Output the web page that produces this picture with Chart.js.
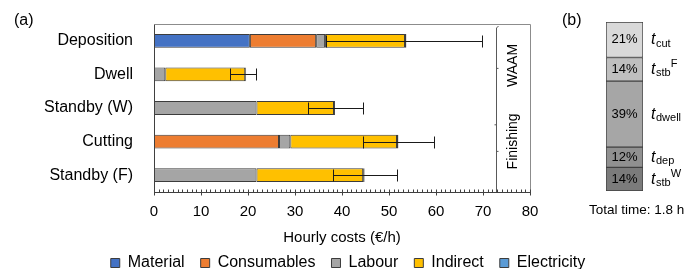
<!DOCTYPE html>
<html lang="en">
<head>
<meta charset="UTF-8" />
<title>Hourly costs</title>
<script src="https://cdn.jsdelivr.net/npm/chart.js@4.4.1/dist/chart.umd.min.js"></script>
<style>
	body { margin: 0; background: #fff; }
	#wrap { position: relative; width: 696px; height: 269px; font-family: 'Liberation Sans', Arial, sans-serif; }
	#costChart { position: absolute; left: 0; top: 0; }
	#timeChart { position: absolute; left: 560px; top: 0; }
	.tag { position: absolute; font-size: 16px; color: #000; }
</style>
</head>
<body>
<div id="wrap">
	<canvas id="costChart" width="696" height="269"></canvas>
	<canvas id="timeChart" width="136" height="269"></canvas>
	<div class="tag" style="left:14px; top:11px;">(a)</div>
	<div class="tag" style="left:562px; top:11px;">(b)</div>
	<div class="tag" style="left:589px; top:202px; font-size:13.5px;">Total time: 1.8 h</div>
</div>
<script>
	// panel (a) - hourly costs per state
	const categories = ['Deposition', 'Dwell', 'Standby (W)', 'Cutting', 'Standby (F)'];
	const material    = [20.4, 0, 0, 0, 0];
	const consumables = [14.1, 0, 0, 26.6, 0];
	const labour      = [1.9, 2.4, 21.8, 2.4, 21.8];
	const indirect    = [17.0, 17.0, 16.5, 22.7, 22.7];
	const electricity = [0.3, 0.2, 0.2, 0.3, 0.3];
	const errLow  = [17.0, 3.5, 5.8, 7.6, 6.8];
	const errHigh = [16.0, 2.1, 5.9, 7.6, 6.9];
	const xTicks = [0, 10, 20, 30, 40, 50, 60, 70, 80];

	// panel (b) - share of total time, bottom to top
	const timeNames  = ['stbW', 'dep', 'dwell', 'stbF', 'cut'];
	const timeShares = [14, 12, 39, 14, 21];
	const timeSub    = ['stb', 'dep', 'dwell', 'stb', 'cut'];
	const timeSup    = ['W', '', '', 'F', ''];

	const FONT = "'Liberation Sans', Arial, sans-serif";
	const EDGE = '#3c3c3c';

	const series = [
		['Material', material, '#4472c4'],
		['Consumables', consumables, '#ed7d31'],
		['Labour', labour, '#a5a5a5'],
		['Indirect', indirect, '#ffc000'],
		['Electricity', electricity, '#5b9bd5']
	];

	const noPad = s => { s.paddingTop = 0; s.paddingBottom = 0; s.paddingLeft = 0; s.paddingRight = 0; };

	const errorBars = {
		id: 'errorBars',
		afterDatasetsDraw(chart) {
			const {ctx, scales: {x, y}} = chart;
			ctx.save();
			ctx.strokeStyle = '#1a1a1a';
			ctx.lineWidth = 1;
			categories.forEach((c, i) => {
				const total = material[i] + consumables[i] + labour[i] + indirect[i] + electricity[i];
				const x1 = Math.round(x.getPixelForValue(total - errLow[i])) + 0.5;
				const x2 = Math.round(x.getPixelForValue(total + errHigh[i])) + 0.5;
				const yc = Math.round(y.getPixelForValue(i)) + 0.5;
				ctx.beginPath();
				ctx.moveTo(x1, yc); ctx.lineTo(x2, yc);
				ctx.moveTo(x1, yc - 6); ctx.lineTo(x1, yc + 6);
				ctx.moveTo(x2, yc - 6); ctx.lineTo(x2, yc + 6);
				ctx.stroke();
			});
			ctx.restore();
		}
	};

	const frame = {
		id: 'frame',
		afterDraw(chart) {
			const {ctx, chartArea: a, scales: {x, y}} = chart;
			const L = Math.round(a.left) + 0.5, R = Math.round(a.right) + 0.5;
			const T = Math.round(a.top) + 0.5, B = Math.round(a.bottom) + 0.5;
			ctx.save();
			ctx.lineWidth = 1;
			ctx.strokeStyle = '#8c8c8c';
			ctx.beginPath();
			ctx.moveTo(L, T); ctx.lineTo(R, T); ctx.lineTo(R, B);
			ctx.stroke();
			ctx.strokeStyle = '#404040';
			ctx.beginPath();
			ctx.moveTo(L, T); ctx.lineTo(L, B); ctx.lineTo(R, B);
			for (let v = 0; v <= 80; v++) {
				const px = Math.round(x.getPixelForValue(v)) + 0.5;
				ctx.moveTo(px, B - 3);
				ctx.lineTo(px, v % 10 === 0 ? B + 3 : B);
			}
			ctx.stroke();

			// group brackets
			const bx = Math.round(x.getPixelForValue(72.8)) + 0.5;
			const split = (y.getPixelForValue(2) + y.getPixelForValue(3)) / 2;
			const top = a.top + 2, bot = a.bottom;
			ctx.strokeStyle = '#595959';
			ctx.beginPath();
			ctx.moveTo(bx + 2, top); ctx.lineTo(bx, top + 2); ctx.lineTo(bx, bot);
			[(top + split) / 2 - 7, (split + bot) / 2 - 7].forEach(m => {
				ctx.moveTo(bx, m); ctx.lineTo(bx + 2, m);
			});
			ctx.moveTo(bx, split); ctx.lineTo(bx - 2, split);
			ctx.stroke();

			ctx.fillStyle = '#000';
			ctx.font = '14px ' + FONT;
			ctx.textAlign = 'center';
			ctx.textBaseline = 'middle';
			[['WAAM', (top + split) / 2 - 10], ['Finishing', (split + bot) / 2 - 17]].forEach(([t, m]) => {
				ctx.save();
				ctx.translate(bx + 17, m);
				ctx.rotate(-Math.PI / 2);
				ctx.fillText(t, 0, 0);
				ctx.restore();
			});
			ctx.restore();
		}
	};

	new Chart(document.getElementById('costChart'), {
		type: 'bar',
		data: {
			labels: categories,
			datasets: series.map(([label, vals, color]) => ({
				label: label,
				data: vals.map(v => v || null),
				backgroundColor: color,
				borderColor: EDGE,
				borderWidth: 1,
				borderSkipped: false,
				barPercentage: 0.41,
				categoryPercentage: 1,
				stack: 's'
			}))
		},
		options: {
			indexAxis: 'y',
			responsive: false,
			animation: false,
			layout: { padding: { top: 24, bottom: -12 } },
			scales: {
				x: {
					stacked: true,
					min: 0, max: 80,
					grid: { display: false, drawTicks: false },
					border: { display: false },
					ticks: { stepSize: 10, padding: 11, color: '#000', font: { family: FONT, size: 15 } },
					title: { display: true, text: 'Hourly costs (€/h)', color: '#000', font: { family: FONT, size: 15 }, padding: { top: 0, bottom: -8 } },
					afterFit: s => { s.height = 47; noPad(s); }
				},
				y: {
					stacked: true,
					grid: { display: false, drawTicks: false },
					border: { display: false },
					ticks: { padding: 21, color: '#000', font: { family: FONT, size: 16 } },
					afterFit: s => { s.width = 154; noPad(s); }
				},
				yR: {
					type: 'linear',
					position: 'right',
					display: true,
					grid: { display: false, drawTicks: false },
					border: { display: false },
					ticks: { display: false },
					afterFit: s => { s.width = 166; noPad(s); }
				}
			},
			plugins: {
				legend: {
					position: 'bottom',
					labels: { boxWidth: 9, boxHeight: 9, padding: 16, color: '#000', font: { family: FONT, size: 16 } }
				},
				tooltip: { enabled: false }
			}
		},
		plugins: [errorBars, frame]
	});

	const timeLabels = {
		id: 'timeLabels',
		afterDatasetsDraw(chart) {
			const {ctx, chartArea: a} = chart;
			ctx.save();
			ctx.fillStyle = '#000';
			ctx.textBaseline = 'middle';
			chart.data.datasets.forEach((ds, i) => {
				const bar = chart.getDatasetMeta(i).data[0];
				const ym = (bar.y + bar.base) / 2;
				ctx.font = '13px ' + FONT;
				ctx.textAlign = 'center';
				ctx.fillText(ds.data[0] + '%', bar.x, ym);
				ctx.textAlign = 'left';
				const tx = a.right + 8;
				ctx.font = 'italic 16px ' + FONT;
				ctx.fillText('t', tx, ym);
				ctx.font = '11px ' + FONT;
				ctx.fillText(timeSub[i], tx + 5, ym + 4);
				if (timeSup[i]) {
					const w = ctx.measureText(timeSub[i]).width;
					ctx.fillText(timeSup[i], tx + 5 + w, ym - 5);
				}
			});
			ctx.restore();
		}
	};

	const greys = ['#7b7b7b', '#909090', '#a6a6a6', '#bfbfbf', '#d9d9d9'];

	new Chart(document.getElementById('timeChart'), {
		type: 'bar',
		data: {
			labels: ['time'],
			datasets: timeNames.map((n, i) => ({
				label: n,
				data: [timeShares[i]],
				backgroundColor: greys[i],
				borderColor: '#404040',
				borderWidth: 1,
				borderSkipped: false,
				barPercentage: 1,
				categoryPercentage: 1,
				stack: 't'
			}))
		},
		options: {
			responsive: false,
			animation: false,
			layout: { padding: { left: 46, right: 53, top: 22, bottom: 78 } },
			scales: {
				x: { stacked: true, display: false },
				y: { stacked: true, display: false, min: 0, max: 100 }
			},
			plugins: { legend: { display: false }, tooltip: { enabled: false } }
		},
		plugins: [timeLabels]
	});
</script>
</body>
</html>
